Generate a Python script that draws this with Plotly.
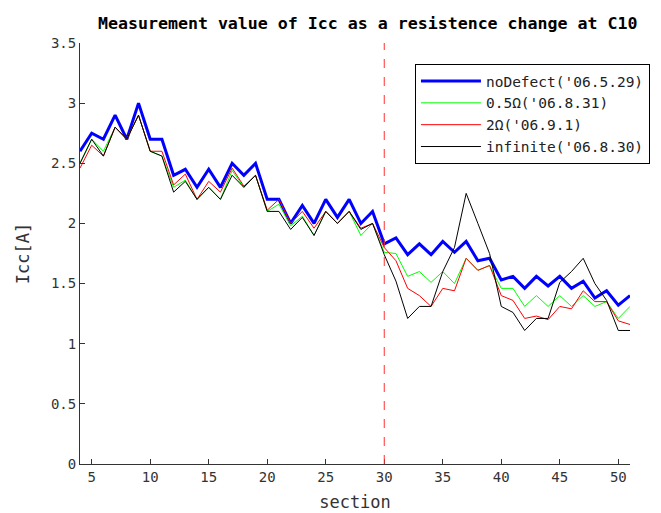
import plotly.graph_objects as go

sections = list(range(4, 52))

no_defect = [2.6, 2.75, 2.7, 2.9, 2.7, 3.0, 2.7, 2.7, 2.4, 2.45, 2.3, 2.45, 2.3, 2.5, 2.4, 2.5,
             2.2, 2.2, 2.0, 2.15, 2.0, 2.2, 2.05, 2.2, 2.0, 2.1, 1.83, 1.88, 1.74, 1.83, 1.74, 1.85,
             1.76, 1.85, 1.69, 1.71, 1.53, 1.56, 1.46, 1.56, 1.48, 1.56, 1.46, 1.52, 1.38, 1.44, 1.32, 1.4]

half_ohm = [2.5, 2.7, 2.6, 2.8, 2.7, 2.9, 2.6, 2.56, 2.3, 2.36, 2.2, 2.3, 2.2, 2.44, 2.3, 2.4,
            2.1, 2.16, 1.98, 2.06, 1.9, 2.1, 2.0, 2.1, 1.9, 2.0, 1.76, 1.75, 1.56, 1.6, 1.51, 1.6,
            1.5, 1.71, 1.61, 1.65, 1.46, 1.46, 1.31, 1.4, 1.31, 1.4, 1.31, 1.4, 1.31, 1.35, 1.21, 1.31]

two_ohm = [2.46, 2.65, 2.56, 2.8, 2.7, 2.9, 2.6, 2.6, 2.32, 2.41, 2.2, 2.35, 2.26, 2.46, 2.31, 2.4,
           2.11, 2.2, 2.0, 2.1, 1.96, 2.1, 2.0, 2.1, 1.96, 2.0, 1.8, 1.69, 1.46, 1.4, 1.31, 1.46,
           1.44, 1.71, 1.61, 1.65, 1.4, 1.36, 1.21, 1.23, 1.2, 1.31, 1.29, 1.44, 1.35, 1.35, 1.19, 1.16]

infinite = [2.5, 2.7, 2.56, 2.8, 2.7, 2.9, 2.6, 2.56, 2.26, 2.35, 2.2, 2.3, 2.2, 2.4, 2.3, 2.4,
            2.1, 2.1, 1.95, 2.05, 1.9, 2.1, 2.0, 2.1, 1.95, 2.0, 1.74, 1.52, 1.21, 1.31, 1.31, 1.6,
            1.8, 2.25, 2.0, 1.75, 1.31, 1.26, 1.11, 1.21, 1.21, 1.51, 1.6, 1.71, 1.5, 1.36, 1.11, 1.11]

series_names = ["noDefect('06.5.29)", "0.5Ω('06.8.31)", "2Ω('06.9.1)", "infinite('06.8.30)"]
fault_section = 30

x_ticks = list(range(5, 51, 5))
y_ticks = [0, 0.5, 1, 1.5, 2, 2.5, 3, 3.5]
y_tick_labels = ["0", "0.5", "1", "1.5", "2", "2.5", "3", "3.5"]

FONT = "DejaVu Sans Mono"

fig = go.Figure()
styles = [("#0000FF", 3), ("#00FF00", 1), ("#FF0000", 1), ("#000000", 1)]
for name, vals, (col, w) in zip(series_names, [no_defect, half_ohm, two_ohm, infinite], styles):
    fig.add_trace(go.Scatter(x=sections, y=vals, mode="lines", name=name,
                             line=dict(color=col, width=w)))

fig.add_shape(type="line", xref="x", yref="y", x0=fault_section, x1=fault_section, y0=0, y1=3.5,
              line=dict(color="#FF3333", width=1, dash="dash"))

fig.update_layout(
    width=661, height=513,
    margin=dict(l=72, r=39, t=35, b=44),
    paper_bgcolor="white", plot_bgcolor="white",
    font=dict(family=FONT, size=14, color="#333333"),
    title=dict(text="<b>Measurement value of Icc as a resistence change at C10</b>",
               x=90 / 661, xref="container", xanchor="left",
               y=1 - 15 / 513, yref="container", yanchor="middle",
               font=dict(family=FONT, size=16.6, color="black")),
    showlegend=True,
    legend=dict(x=0.609, y=0.95, xanchor="left", yanchor="top",
                bgcolor="white", bordercolor="black", borderwidth=1,
                font=dict(family=FONT, size=14.5, color="#222222"),
                itemwidth=60, tracegroupgap=0),
    xaxis=dict(range=[4, 51], tickvals=x_ticks, ticks="inside", ticklen=5,
               showline=True, linecolor="#333333", tickcolor="#333333", linewidth=1,
               showgrid=False, zeroline=False, mirror=False,
               title=dict(text="section", font=dict(family=FONT, size=17), standoff=12)),
    yaxis=dict(range=[0, 3.5], tickvals=y_ticks, ticktext=y_tick_labels, ticks="inside", ticklen=5,
               showline=True, linecolor="#333333", tickcolor="#333333", linewidth=1,
               showgrid=False, zeroline=False, mirror=False,
               title=dict(text="Icc[A]", font=dict(family=FONT, size=17), standoff=16)),
)

fig.write_html("out.html")
